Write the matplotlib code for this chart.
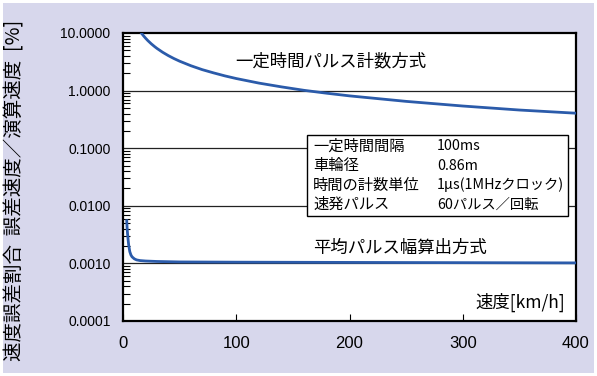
import matplotlib
matplotlib.use("Agg")
import matplotlib.pyplot as plt
from matplotlib.patches import Rectangle
from matplotlib.ticker import FixedLocator, LogLocator, NullFormatter

JP = ["Noto Sans CJK JP", "DejaVu Sans"]
NUM = ["Liberation Sans", "DejaVu Sans"]

# 一定時間パルス計数方式
speed_count = [16.2, 18, 20, 22, 25, 28, 30, 35, 40, 45, 50, 60, 70, 80, 90, 100,
               120, 140, 160, 180, 200, 250, 300, 350, 400]
error_count = [10.0, 9.0, 8.1, 7.36, 6.48, 5.79, 5.4, 4.63, 4.05, 3.6, 3.24, 2.7,
               2.31, 2.03, 1.8, 1.62, 1.35, 1.16, 1.01, 0.90, 0.81, 0.65, 0.54,
               0.46, 0.405]

# 平均パルス幅算出方式
speed_avg = [3.3, 3.6, 4, 4.5, 5, 6, 7, 8, 10, 12, 15, 20, 30, 50, 100, 200, 300, 400]
error_avg = [0.0055, 0.0042, 0.0033, 0.0026, 0.0021, 0.0016, 0.00140, 0.00130,
             0.00120, 0.00115, 0.00112, 0.00110, 0.00108, 0.00106, 0.00105,
             0.00104, 0.00103, 0.00102]

y_ticks = [0.0001, 0.001, 0.01, 0.1, 1, 10]
x_ticks = [0, 100, 200, 300, 400]

box_labels = ["一定時間間隔", "車輪径", "時間の計数単位", "速発パルス"]
box_values = ["100ms", "0.86m", "1μs(1MHzクロック)", "60パルス／回転"]

line_color = "#2B5BAA"

fig = plt.figure(figsize=(5.97, 3.76), dpi=100, facecolor="white")
fig.patches.append(Rectangle((3 / 597, 3 / 376), 591 / 597, 370 / 376,
                             transform=fig.transFigure, facecolor="#D7D7EC",
                             edgecolor="none", zorder=-1))

ax = fig.add_axes([123 / 597, 55 / 376, 453 / 597, 288 / 376])
ax.set_facecolor("white")
ax.set_yscale("log")
ax.set_xlim(0, 400)
ax.set_ylim(0.0001, 10)

ax.plot(speed_count, error_count, color=line_color, lw=2.0, zorder=3)
ax.plot(speed_avg, error_avg, color=line_color, lw=2.0, zorder=3)

for y in y_ticks[1:-1]:
    ax.axhline(y, color="#222222", lw=0.9, zorder=1)

ax.yaxis.set_major_locator(FixedLocator(y_ticks))
ax.yaxis.set_minor_locator(LogLocator(base=10, subs=range(2, 10)))
ax.yaxis.set_minor_formatter(NullFormatter())
ax.set_yticklabels([f"{v:.4f}" for v in y_ticks], fontsize=10, family=NUM)
ax.tick_params(axis="y", which="major", direction="in", length=0, pad=9)
ax.tick_params(axis="y", which="minor", direction="in", length=5, width=0.8)

ax.set_xticks(x_ticks)
ax.set_xticklabels([str(v) for v in x_ticks], fontsize=12, family=NUM)
ax.tick_params(axis="x", direction="in", length=5, width=0.8, pad=11)

for s in ax.spines.values():
    s.set_linewidth(1.6)
    s.set_color("black")

ax.text(0.247, 0.90, "一定時間パルス計数方式", transform=ax.transAxes,
        fontsize=12.5, family=JP, va="center", ha="left")
ax.text(0.42, 0.255, "平均パルス幅算出方式", transform=ax.transAxes,
        fontsize=12.5, family=JP, va="center", ha="left")
ax.text(0.975, 0.065, "速度[km/h]", transform=ax.transAxes,
        fontsize=12.5, family=JP, va="center", ha="right")

# 条件の表
bx0, bx1 = 307, 568
by0, by1 = 135, 216
fig.patches.append(Rectangle((bx0 / 597, 1 - by1 / 376), (bx1 - bx0) / 597,
                             (by1 - by0) / 376, transform=fig.transFigure,
                             facecolor="white", edgecolor="black", lw=1.0,
                             zorder=5))
for i, (lab, val) in enumerate(zip(box_labels, box_values)):
    yy = 1 - (146 + i * 19.5) / 376
    fig.text(313 / 597, yy, lab, fontsize=11, family=JP, va="center",
             ha="left", zorder=6)
    fig.text(437 / 597, yy, val, fontsize=10.3, family=JP, va="center",
             ha="left", zorder=6)

fig.text(15 / 597, 1 - 190 / 376, "速度誤差割合  誤差速度／演算速度  [%]",
         rotation=90, fontsize=14, family=JP, va="center", ha="center")

fig.savefig("out.png", dpi=100, facecolor=fig.get_facecolor())
